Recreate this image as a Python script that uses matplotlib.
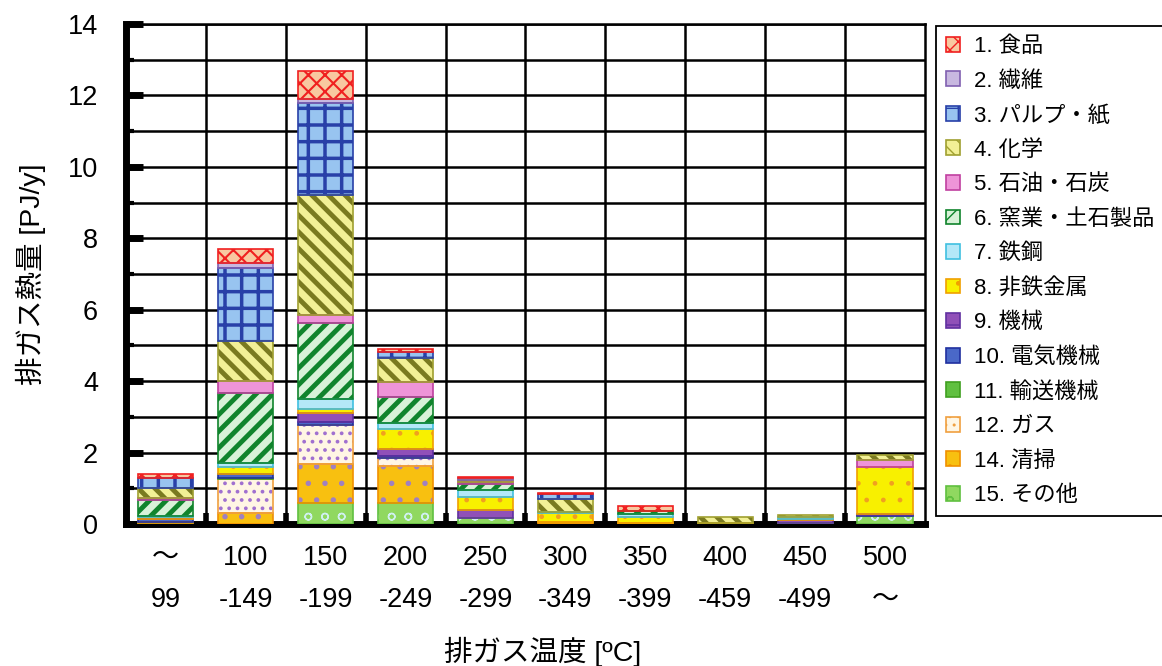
import matplotlib
matplotlib.use("Agg")
import matplotlib.pyplot as plt
from matplotlib.patches import Patch
from matplotlib.ticker import MultipleLocator
import numpy as np

plt.rcParams["font.family"] = ["Liberation Sans", "Noto Sans CJK JP"]

# %%
# Exhaust heat by temperature band [PJ/y], one list per industry sector
temp_top = ["～", "100", "150", "200", "250", "300", "350", "400", "450", "500"]
temp_bottom = ["99", "-149", "-199", "-249", "-299", "-349", "-399", "-459", "-499", "～"]

food = [0.10, 0.40, 0.78, 0.10, 0.05, 0.03, 0.14, 0.00, 0.00, 0.00]
textile = [0.00, 0.14, 0.10, 0.00, 0.05, 0.00, 0.00, 0.00, 0.00, 0.00]
pulp = [0.27, 2.05, 2.58, 0.15, 0.00, 0.12, 0.00, 0.00, 0.00, 0.00]
chemical = [0.30, 1.10, 3.36, 0.68, 0.05, 0.36, 0.00, 0.15, 0.05, 0.14]
petroleum = [0.04, 0.33, 0.23, 0.42, 0.05, 0.00, 0.00, 0.00, 0.00, 0.19]
ceramic = [0.45, 1.98, 2.13, 0.72, 0.17, 0.00, 0.09, 0.00, 0.00, 0.00]
steel = [0.02, 0.10, 0.28, 0.17, 0.19, 0.05, 0.08, 0.00, 0.07, 0.00]
nonferrous = [0.06, 0.20, 0.10, 0.58, 0.37, 0.24, 0.17, 0.04, 0.03, 1.32]
machinery = [0.02, 0.00, 0.25, 0.18, 0.23, 0.00, 0.00, 0.00, 0.08, 0.03]
electric = [0.08, 0.10, 0.10, 0.05, 0.00, 0.00, 0.00, 0.00, 0.00, 0.02]
transport = [0.00, 0.05, 0.00, 0.00, 0.00, 0.00, 0.00, 0.00, 0.00, 0.00]
gas = [0.00, 0.95, 1.10, 0.23, 0.00, 0.00, 0.00, 0.00, 0.00, 0.00]
cleaning = [0.03, 0.30, 1.07, 1.03, 0.00, 0.06, 0.02, 0.00, 0.00, 0.00]
other = [0.02, 0.00, 0.60, 0.60, 0.17, 0.00, 0.00, 0.00, 0.02, 0.22]

sector_labels = ["1. 食品", "2. 繊維", "3. パルプ・紙", "4. 化学", "5. 石油・石炭",
                 "6. 窯業・土石製品", "7. 鉄鋼", "8. 非鉄金属", "9. 機械", "10. 電気機械",
                 "11. 輸送機械", "12. ガス", "14. 清掃", "15. その他"]
sector_values = [food, textile, pulp, chemical, petroleum, ceramic, steel,
                 nonferrous, machinery, electric, transport, gas, cleaning, other]

# face colour, hatch, hatch colour, hatch width, outline colour
styles = [
    ("#f8c8a0", "xx", "#f02020", 1.5, "#f02020"),
    ("#c8b8e0", "", "#8060b0", 1.0, "#8060b0"),
    ("#98c4f0", "+", "#2840a8", 2.5, "#2840a8"),
    ("#f2f096", "\\\\", "#7a7a20", 3.5, "#a0a030"),
    ("#ee94d8", "", "#c040a0", 1.0, "#c040a0"),
    ("#d8f2d8", "//", "#10842c", 3.5, "#10842c"),
    ("#b4e8f8", "", "#40c0e0", 1.0, "#40c0e0"),
    ("#f8f000", ".", "#f0a020", 1.0, "#f0a000"),
    ("#9050b8", "-", "#c8a8e0", 1.0, "#6030a0"),
    ("#4a68c8", "", "#2030a0", 1.0, "#2030a0"),
    ("#60c040", "", "#40a020", 1.0, "#40a020"),
    ("#fff6e4", "..", "#a070d0", 1.5, "#f0a040"),
    ("#f8c010", ".", "#a080c0", 1.5, "#f09000"),
    ("#90d860", "o", "#d0f0f0", 1.0, "#60c040"),
]


def styled_bar(ax, x, h, bottom, style, width):
    face, hatch, hcolor, hlw, edge = style
    bars = ax.bar(x, h, width, bottom=bottom, color=face, edgecolor=hcolor,
                  hatch=hatch, linewidth=0, zorder=3)
    for p in bars:
        if hasattr(p, "set_hatch_linewidth"):
            p.set_hatch_linewidth(hlw)
    ax.bar(x, h, width, bottom=bottom, fill=False, edgecolor=edge,
           linewidth=1.2, zorder=4)


# %%
fig = plt.figure(figsize=(11.62, 6.66), dpi=100)
ax = fig.add_axes([0.1084, 0.2132, 0.6876, 0.7508])

x = np.arange(len(temp_top))
width = 0.69
bottom = np.zeros(len(x))
# stack from the last sector upwards so that "1. 食品" ends on top
for vals, style in zip(sector_values[::-1], styles[::-1]):
    vals = np.array(vals)
    mask = vals > 0
    styled_bar(ax, x[mask], vals[mask], bottom[mask], style, width)
    bottom += vals

ax.set_xlim(-0.5, len(x) - 0.5)
ax.set_ylim(0, 14)
ax.yaxis.set_major_locator(MultipleLocator(2))
ax.yaxis.set_minor_locator(MultipleLocator(1))
ax.set_xticks(x)
ax.set_xticklabels([f"{a}\n{b}" for a, b in zip(temp_top, temp_bottom)],
                   fontsize=19.5, linespacing=1.8)
ax.set_xticks(np.arange(0.5, len(x) - 1, 1.0), minor=True)
ax.tick_params(axis="x", which="major", length=0, pad=15)
ax.tick_params(axis="x", which="minor", direction="in", length=8, width=4)
ax.tick_params(axis="y", which="major", direction="in", length=12, width=5,
               labelsize=19.5, pad=20)
ax.tick_params(axis="y", which="minor", direction="in", length=6, width=3)

ax.grid(True, which="both", color="black", linewidth=1.8, zorder=1)
ax.xaxis.grid(False, which="major")
ax.set_axisbelow(True)

ax.spines["left"].set_linewidth(5)
ax.spines["bottom"].set_linewidth(5)
ax.spines["top"].set_linewidth(1.8)
ax.spines["right"].set_linewidth(1.8)

ax.set_ylabel("排ガス熱量 [PJ/y]", fontsize=20.5, labelpad=16)
ax.set_xlabel("排ガス温度 [ºC]", fontsize=20.5, labelpad=18)
ax.xaxis.set_label_coords(0.522, -0.225)

handles = []
for lab, st in zip(sector_labels, styles):
    face, hatch, hcolor, hlw, edge = st
    handles.append(Patch(facecolor=face, edgecolor=edge, hatch=hatch, label=lab,
                         linewidth=1.2))
leg = fig.legend(handles=handles, loc="upper left",
                 bbox_to_anchor=(0.8055, 0.961), bbox_transform=fig.transFigure,
                 borderaxespad=0, fontsize=16, handlelength=0.65,
                 handleheight=0.65, handletextpad=0.6, labelspacing=0.61,
                 borderpad=0.45, fancybox=False, framealpha=1, edgecolor="black")
leg.get_frame().set_linewidth(1.3)

fig.savefig("out.png", dpi=100)
